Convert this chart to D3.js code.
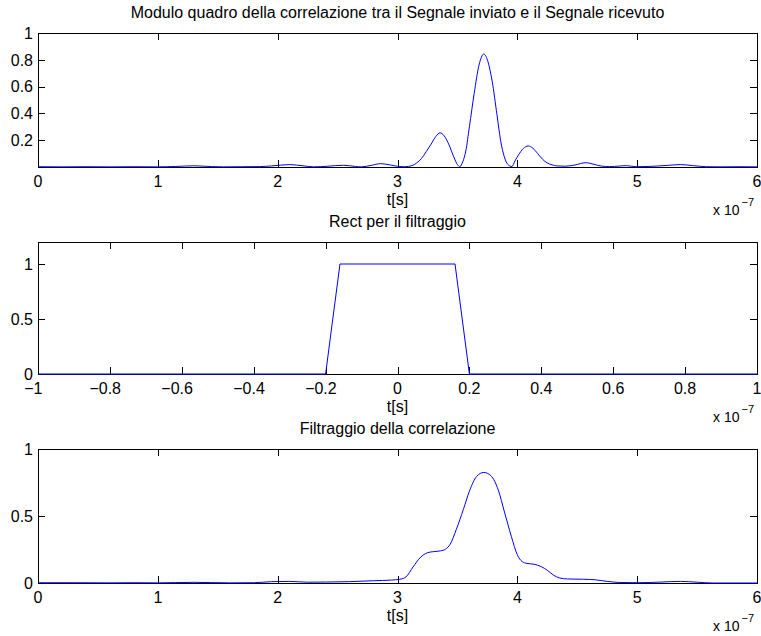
<!DOCTYPE html>
<html>
<head>
<meta charset="utf-8">
<script src="https://cdn.jsdelivr.net/npm/d3@7"></script>
<style>
  html, body { margin: 0; padding: 0; background: #fff; }
  svg { display: block; font-family: "Liberation Sans", Arial, Helvetica, sans-serif; }
</style>
</head>
<body>
<svg id="fig" width="761" height="636"></svg>
<script>
// |correlation|^2 between sent and received signal (time in units of 1e-7 s)
const corrT = [0, 0.2, 0.4, 0.6, 0.8, 1.0, 1.15, 1.3, 1.45, 1.55, 1.7, 1.85, 1.95, 2.1, 2.22, 2.3,
  2.42, 2.55, 2.65, 2.7, 2.78, 2.86, 2.94, 3.0, 3.06, 3.12, 3.16, 3.2, 3.24, 3.28, 3.32, 3.355,
  3.39, 3.43, 3.47, 3.5, 3.52, 3.545, 3.57, 3.6, 3.64, 3.68, 3.72, 3.755, 3.79, 3.83, 3.86, 3.89,
  3.92, 3.955, 3.98, 4.01, 4.05, 4.09, 4.13, 4.17, 4.21, 4.25, 4.29, 4.33, 4.4, 4.48, 4.57, 4.64,
  4.7, 4.77, 4.85, 4.91, 4.99, 5.1, 5.25, 5.36, 5.47, 5.58, 5.7, 5.85, 6.0];
const corrV = [0.002, 0.001, 0.002, 0.001, 0.002, 0.001, 0.004, 0.009, 0.003, 0.001, 0.002, 0.003, 0.008, 0.018, 0.008, 0.001,
  0.006, 0.013, 0.004, 0.001, 0.012, 0.025, 0.015, 0.005, 0.002, 0.01, 0.03, 0.063, 0.115, 0.17, 0.228, 0.255,
  0.232, 0.165, 0.075, 0.018, 0.003, 0.04, 0.12, 0.3, 0.55, 0.76, 0.843, 0.785, 0.64, 0.39, 0.2, 0.08,
  0.02, 0.003, 0.045, 0.09, 0.138, 0.157, 0.14, 0.1, 0.058, 0.03, 0.016, 0.008, 0.006, 0.015, 0.032, 0.02,
  0.007, 0.003, 0.007, 0.01, 0.002, 0.004, 0.012, 0.018, 0.01, 0.002, 0.001, 0.002, 0.001];

// Rectangular filter window
const rectT = [-1, -0.2, -0.16, 0.16, 0.2, 1];
const rectV = [0, 0, 1, 1, 0, 0];

// Filtered correlation
const filtT = [0, 0.3, 0.6, 0.8, 1.0, 1.15, 1.3, 1.45, 1.6, 1.8, 1.95, 2.1, 2.25, 2.4, 2.6, 2.8, 2.95,
  3.02, 3.07, 3.13, 3.19, 3.25, 3.3, 3.36, 3.4, 3.44, 3.49, 3.55, 3.6, 3.66, 3.72, 3.78, 3.84, 3.895,
  3.95, 4.0, 4.04, 4.08, 4.14, 4.2, 4.25, 4.3, 4.35, 4.42, 4.55, 4.65, 4.75, 4.85, 5.0, 5.2, 5.36,
  5.5, 5.63, 5.8, 6.0];
const filtV = [0.002, 0.002, 0.001, 0.002, 0.001, 0.003, 0.005, 0.003, 0.001, 0.002, 0.01, 0.012, 0.006, 0.007, 0.01, 0.017, 0.022,
  0.028, 0.045, 0.12, 0.19, 0.226, 0.234, 0.24, 0.252, 0.29, 0.398, 0.55, 0.685, 0.795, 0.825, 0.8, 0.696, 0.522,
  0.348, 0.21, 0.16, 0.146, 0.14, 0.122, 0.095, 0.06, 0.038, 0.03, 0.028, 0.024, 0.012, 0.004, 0.002, 0.007, 0.012,
  0.006, 0.0, 0.0, 0.0];

// Ticks and labels
const xTicksTime = [0, 1, 2, 3, 4, 5, 6];
const xTicksRect = [-1, -0.8, -0.6, -0.4, -0.2, 0, 0.2, 0.4, 0.6, 0.8, 1];
const yTicksCorr = [0.2, 0.4, 0.6, 0.8, 1];
const yTicksHalf = [0, 0.5, 1];
const titles = [
  "Modulo quadro della correlazione tra il Segnale inviato e il Segnale ricevuto",
  "Rect per il filtraggio",
  "Filtraggio della correlazione"
];
const xLabel = "t[s]";

const svg = d3.select("#fig");
const left = 38, right = 757;
const tickLen = 7;
const fontSize = 16;

const panels = [
  { top: 33, bottom: 167, xDom: [0, 6], yDom: [0, 1], xt: xTicksTime, yt: yTicksCorr, t: corrT, v: corrV, curve: d3.curveMonotoneX, title: titles[0] },
  { top: 242, bottom: 374, xDom: [-1, 1], yDom: [0, 1.2], xt: xTicksRect, yt: yTicksHalf, t: rectT, v: rectV, curve: d3.curveLinear, title: titles[1] },
  { top: 449, bottom: 583, xDom: [0, 6], yDom: [0, 1], xt: xTicksTime, yt: yTicksHalf, t: filtT, v: filtV, curve: d3.curveMonotoneX, title: titles[2] }
];

const fmt = d => String(Math.abs(d));

panels.forEach(p => {
  const x = d3.scaleLinear().domain(p.xDom).range([left, right]);
  const y = d3.scaleLinear().domain(p.yDom).range([p.bottom, p.top]);
  const g = svg.append("g");

  // Title
  g.append("text")
    .attr("x", (left + right) / 2).attr("y", p.top - 15)
    .attr("text-anchor", "middle").attr("font-size", fontSize).attr("fill", "#000")
    .text(p.title);

  // Tick marks (inside, mirrored on the opposite side)
  const ticks = g.append("g").attr("stroke", "#000").attr("stroke-width", 1);
  p.xt.forEach(t => {
    const xx = Math.round(x(t)) + 0.5;
    ticks.append("line").attr("x1", xx).attr("x2", xx).attr("y1", p.bottom).attr("y2", p.bottom - tickLen);
    ticks.append("line").attr("x1", xx).attr("x2", xx).attr("y1", p.top).attr("y2", p.top + tickLen);
  });
  p.yt.forEach(t => {
    const yy = Math.round(y(t)) + 0.5;
    ticks.append("line").attr("x1", left).attr("x2", left + tickLen).attr("y1", yy).attr("y2", yy);
    ticks.append("line").attr("x1", right).attr("x2", right - tickLen).attr("y1", yy).attr("y2", yy);
  });

  // X tick labels: numeric part centred on the tick, minus sign hanging to the left
  p.xt.forEach(t => {
    const txt = g.append("text")
      .attr("x", x(t)).attr("y", p.bottom + 20)
      .attr("text-anchor", "middle").attr("font-size", fontSize).attr("fill", "#000")
      .text(fmt(t));
    if (t < 0) {
      const w = txt.node().getComputedTextLength();
      g.append("text")
        .attr("x", x(t) - w / 2).attr("y", p.bottom + 20)
        .attr("text-anchor", "end").attr("font-size", fontSize).attr("fill", "#000")
        .text("\u2212");
    }
  });

  // Y tick labels
  p.yt.forEach(t => {
    g.append("text")
      .attr("x", left - 5).attr("y", y(t)).attr("dy", "0.36em")
      .attr("text-anchor", "end").attr("font-size", fontSize).attr("fill", "#000")
      .text(fmt(t));
  });

  // X axis label and exponent
  g.append("text")
    .attr("x", (left + right) / 2).attr("y", p.bottom + 37.5)
    .attr("text-anchor", "middle").attr("font-size", fontSize).attr("fill", "#000")
    .text(xLabel);
  g.append("text")
    .attr("x", 713).attr("y", p.bottom + 47.5)
    .attr("font-size", 14).attr("fill", "#000")
    .text("x 10");
  g.append("text")
    .attr("x", 741.5).attr("y", p.bottom + 38.5)
    .attr("font-size", 11).attr("fill", "#000")
    .text("\u22127");

  // Frame
  g.append("rect")
    .attr("x", left + 0.5).attr("y", p.top + 0.5)
    .attr("width", right - left).attr("height", p.bottom - p.top)
    .attr("fill", "none").attr("stroke", "#000").attr("stroke-width", 1);

  // Data line
  const pts = p.t.map((t, i) => [t, p.v[i]]);
  const line = d3.line().x(d => x(d[0])).y(d => y(d[1])).curve(p.curve);
  g.append("path")
    .datum(pts)
    .attr("d", line)
    .attr("fill", "none").attr("stroke", "#0000ff").attr("stroke-width", 1);
});
</script>
</body>
</html>
